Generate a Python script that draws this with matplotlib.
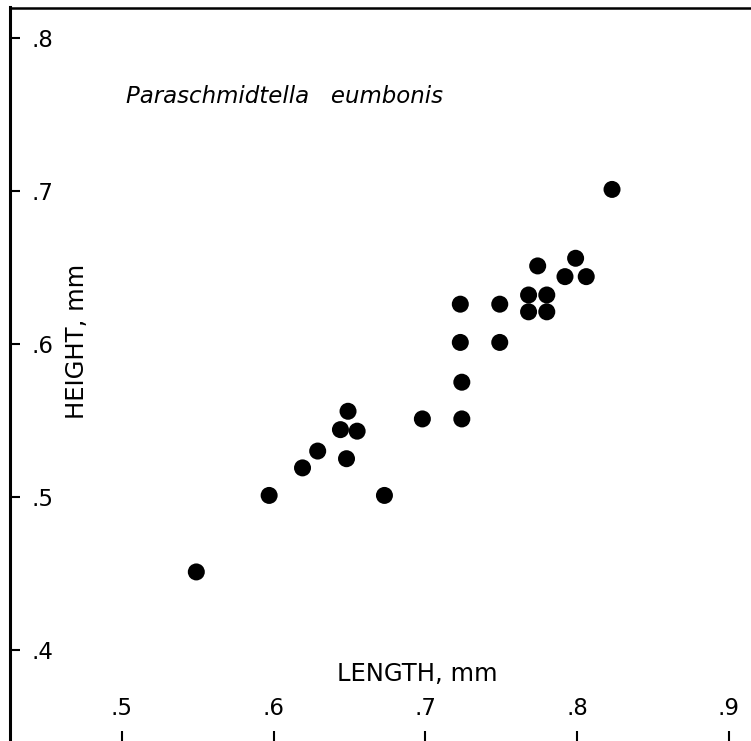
import matplotlib
matplotlib.use("Agg")
import matplotlib.pyplot as plt

# shell length / height, mm
length = [0.549, 0.597, 0.619, 0.629, 0.644, 0.649, 0.655, 0.648, 0.673, 0.698,
          0.723, 0.723, 0.724, 0.724, 0.749, 0.749,
          0.768, 0.780, 0.768, 0.780, 0.774, 0.799, 0.792, 0.806, 0.823]
height = [0.451, 0.501, 0.519, 0.530, 0.544, 0.556, 0.543, 0.525, 0.501, 0.551,
          0.626, 0.601, 0.575, 0.551, 0.626, 0.601,
          0.632, 0.632, 0.621, 0.621, 0.651, 0.656, 0.644, 0.644, 0.701]

x_ticks = [0.5, 0.6, 0.7, 0.8, 0.9]
x_labels = [".5", ".6", ".7", ".8", ".9"]
y_ticks = [0.4, 0.5, 0.6, 0.7, 0.8]
y_labels = [".4", ".5", ".6", ".7", ".8"]

W, H = 751, 741
fig = plt.figure(figsize=(W / 100, H / 100), dpi=100)
ax = fig.add_axes([10 / W, 0, (W - 10) / W, (H - 7.5) / H])

ax.scatter(length, height, s=150, color="black", edgecolors="none", zorder=3)

ax.set_xlim(0.4262, 0.9146)
ax.set_ylim(0.3405, 0.8199)

ax.set_xticks(x_ticks)
ax.set_xticklabels(x_labels)
ax.set_yticks(y_ticks)
ax.set_yticklabels(y_labels)

# ticks point inward, labels sit inside the frame
ax.tick_params(axis="x", direction="in", length=7, width=1.5, pad=-31.5, labelsize=16.5)
ax.tick_params(axis="y", direction="in", length=7, width=1.5, pad=-31, labelsize=16.5)

ax.spines["right"].set_visible(False)
ax.spines["bottom"].set_visible(False)
ax.spines["left"].set_linewidth(2.2)
ax.spines["top"].set_linewidth(1.8)

ax.set_xlabel("LENGTH, mm", fontsize=17.5, va="top")
ax.xaxis.set_label_coords(0.55, 0.108)
ax.set_ylabel("HEIGHT, mm", fontsize=17.5)
ax.yaxis.set_label_coords(0.106, 0.545)

ax.text(0.157, 0.879, "Paraschmidtella   eumbonis", transform=ax.transAxes,
        fontsize=16.5, style="italic", va="center", ha="left")

fig.savefig("out.png", dpi=100)
